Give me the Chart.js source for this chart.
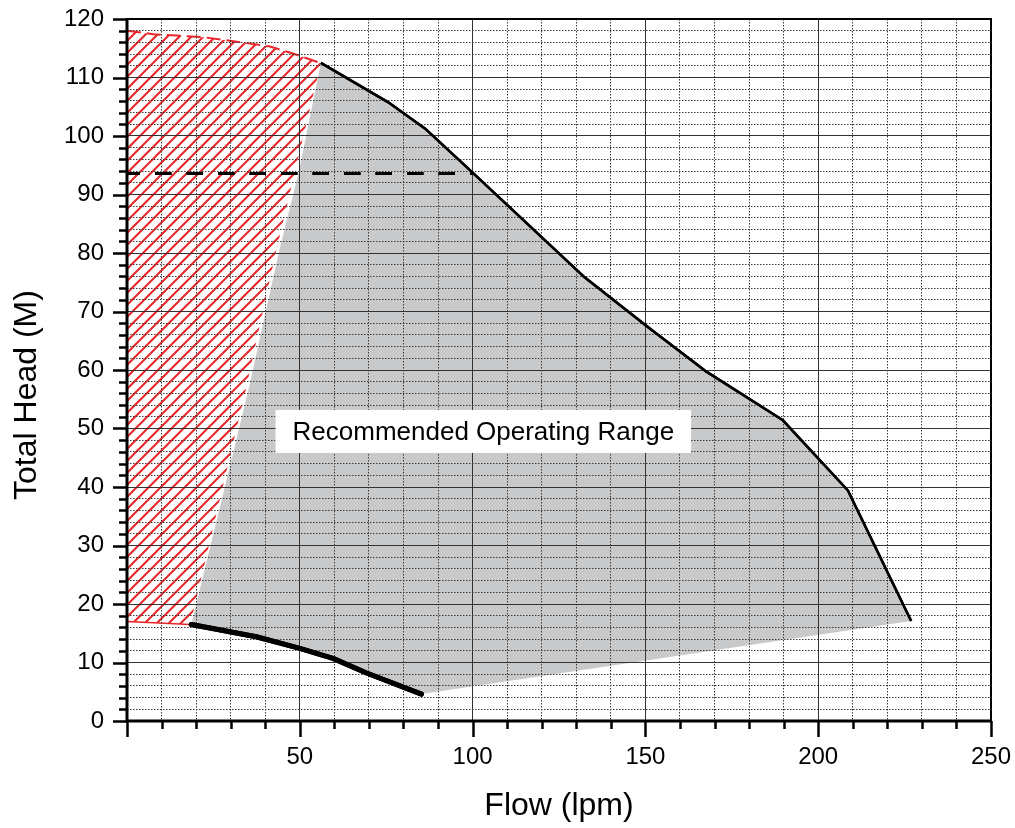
<!DOCTYPE html>
<html>
<head>
<meta charset="utf-8">
<script src="https://cdn.jsdelivr.net/npm/chart.js@4.4.1/dist/chart.umd.min.js"></script>
<style>
  html, body { margin: 0; padding: 0; background: #fff; }
  canvas { display: block; }
</style>
</head>
<body>
<canvas id="pumpChart" width="1015" height="828"></canvas>
<script>
// ── PUMP CURVE ──

const FONT       = "'Liberation Sans', Arial, Helvetica, sans-serif";
const RED        = '#e8262a';
const GRAY_FILL  = '#c8c9cb';
const MAJOR_GRID = '#333333';
const MINOR_GRID = '#3a3a3a';

// upper limit curve (black)
const curveFlow = [56.1, 75.5, 86.2, 99.7, 132.5, 150.8, 167.2, 189.8, 208.6, 226.9];
const curveHead = [112.5, 105.8, 101.3, 93.9, 75.8, 67.3, 59.9, 51.4, 39.4, 17.1];

// thick lower curve
const lowFlow = [18.6, 37.4, 50, 59.6, 69.3, 85.2];
const lowHead = [16.5, 14.4, 12.4, 10.7, 8.2, 4.6];

// left edge of the grey range, bottom to top
const edgeFlow = [18.6, 35.1, 44.1, 49.6, 56.1];
const edgeHead = [16.5, 56.5, 80.5, 93.6, 112.5];

// red hatched zone outline
const hatchFlow = [0, 7.6, 22, 34.6, 41.4, 48, 54.9, 56.1, 43.2, 34.3, 18.3, 0];
const hatchHead = [118, 117.4, 116.9, 115.9, 115.3, 114.1, 112.7, 112.5, 80.5, 56.5, 16.5, 17.0];

// dashed horizontal line
const dashFlow = [0, 100];
const dashHead = [93.6, 93.6];

const rangeLabel = 'Recommended Operating Range';
const labelAt    = { x: 103.1, y: 49.5 };

const xTitle = 'Flow (lpm)';
const yTitle = 'Total Head (M)';

const toPts = (xs, ys) => xs.map((x, i) => ({ x, y: ys[i] }));

const grayPts = [
  ...toPts(edgeFlow, edgeHead),
  ...toPts(curveFlow, curveHead).slice(1),
  ...toPts(lowFlow, lowHead).reverse()
];

const hatchPts = toPts(hatchFlow, hatchHead);

function makeHatch() {
  const s = 12;
  const c = document.createElement('canvas');
  c.width = s; c.height = s;
  const g = c.getContext('2d');
  g.strokeStyle = RED;
  g.lineWidth = 2;
  g.beginPath();
  g.moveTo(-2, s + 2); g.lineTo(s + 2, -2);
  g.moveTo(-2, 2);     g.lineTo(2, -2);
  g.moveTo(s - 2, s + 2); g.lineTo(s + 2, s - 2);
  g.stroke();
  return g.createPattern(c, 'repeat');
}

const isMajorX = v => v % 50 === 0;
const isMajorY = v => v % 10 === 0;

// no extra room for tick labels past the plot edges
const noPad = s => { s.paddingTop = 0; s.paddingBottom = 0; s.paddingLeft = 0; s.paddingRight = 0; };

const LINE_IDX = [0, 1, 2];

const overlayPlugin = {
  id: 'overlay',
  afterDraw(chart) {
    const { ctx, chartArea: a, scales: { x, y } } = chart;

    // lines above the grid
    ctx.save();
    ctx.beginPath();
    ctx.rect(a.left - 6, a.top - 6, a.width + 12, a.height + 12);
    ctx.clip();
    LINE_IDX.forEach(i => chart.getDatasetMeta(i).controller.draw());
    ctx.restore();

    // label box
    ctx.save();
    ctx.font = '26px ' + FONT;
    const tw = ctx.measureText(rangeLabel).width;
    const cx = x.getPixelForValue(labelAt.x);
    const cy = y.getPixelForValue(labelAt.y);
    const bw = tw + 34, bh = 43;
    ctx.fillStyle = '#fff';
    ctx.fillRect(cx - bw / 2, cy - bh / 2, bw, bh);
    ctx.fillStyle = '#000';
    ctx.textAlign = 'center';
    ctx.textBaseline = 'middle';
    ctx.fillText(rangeLabel, cx, cy + 1);
    ctx.restore();

    // ticks
    ctx.save();
    ctx.strokeStyle = '#000';
    ctx.lineWidth = 2.5;
    ctx.beginPath();
    x.ticks.forEach(t => {
      const px = Math.round(x.getPixelForValue(t.value)) + 0.5;
      ctx.moveTo(px, a.bottom);
      ctx.lineTo(px, a.bottom + (isMajorX(t.value) ? 16 : 8));
    });
    y.ticks.forEach(t => {
      const py = Math.round(y.getPixelForValue(t.value)) + 0.5;
      ctx.moveTo(a.left, py);
      ctx.lineTo(a.left - (isMajorY(t.value) ? 14 : 8), py);
    });
    ctx.stroke();

    // frame
    ctx.lineWidth = 2;
    ctx.strokeRect(a.left, a.top, a.width, a.height);
    ctx.lineWidth = 3;
    ctx.beginPath();
    ctx.moveTo(a.left, a.top - 1);
    ctx.lineTo(a.left, a.bottom);
    ctx.lineTo(a.right + 1, a.bottom);
    ctx.stroke();

    // y title
    ctx.translate(27.5, 395);
    ctx.rotate(-Math.PI / 2);
    ctx.font = '32px ' + FONT;
    ctx.fillStyle = '#000';
    ctx.textAlign = 'center';
    ctx.textBaseline = 'middle';
    ctx.fillText(yTitle, 0, 0);
    ctx.restore();
  }
};

function buildChart() {
  const ctx = document.getElementById('pumpChart');

  new Chart(ctx, {
    type: 'line',
    data: {
      datasets: [
        {
          label: 'upper',
          data: toPts(curveFlow, curveHead),
          borderColor: '#000',
          borderWidth: 2.5,
          borderJoinStyle: 'round',
          pointRadius: 0,
          fill: false,
          order: 1
        },
        {
          label: 'lower',
          data: toPts(lowFlow, lowHead),
          borderColor: '#000',
          borderWidth: 5,
          borderCapStyle: 'round',
          borderJoinStyle: 'round',
          pointRadius: 0,
          fill: false,
          order: 2
        },
        {
          label: 'dash',
          data: toPts(dashFlow, dashHead),
          borderColor: '#000',
          borderWidth: 3,
          borderDash: [16.5, 15],
          borderDashOffset: 3.5,
          pointRadius: 0,
          fill: false,
          order: 3
        },
        {
          label: 'range',
          data: grayPts,
          borderColor: 'transparent',
          borderWidth: 0,
          backgroundColor: GRAY_FILL,
          pointRadius: 0,
          fill: 'shape',
          order: 4
        },
        {
          label: 'hatch top',
          data: hatchPts.slice(0, 8),
          borderColor: RED,
          borderWidth: 2,
          borderDash: [14, 6],
          pointRadius: 0,
          fill: false,
          order: 5
        },
        {
          label: 'hatch bottom',
          data: hatchPts.slice(10),
          borderColor: RED,
          borderWidth: 1.5,
          pointRadius: 0,
          fill: false,
          order: 6
        },
        {
          label: 'hatch',
          data: hatchPts,
          backgroundColor: makeHatch(),
          borderColor: 'transparent',
          borderWidth: 0,
          pointRadius: 0,
          fill: 'shape',
          order: 7
        }
      ]
    },
    options: {
      responsive: false,
      maintainAspectRatio: false,
      devicePixelRatio: 1,
      animation: false,
      layout: { padding: { top: 19, right: 24, left: 0, bottom: 0 } },
      plugins: {
        legend: { display: false },
        tooltip: { enabled: false }
      },
      scales: {
        x: {
          type: 'linear',
          min: 0,
          max: 250,
          afterFit: s => { s.height = 107; noPad(s); },
          ticks: {
            stepSize: 10,
            autoSkip: false,
            maxRotation: 0,
            padding: 22,
            color: '#000',
            font: { family: FONT, size: 24 },
            callback: v => (isMajorX(v) && v !== 0) ? String(v) : ''
          },
          grid: {
            z: 1,
            drawTicks: false,
            lineWidth: 1,
            color: c => c.tick && isMajorX(c.tick.value) ? MAJOR_GRID : MINOR_GRID
          },
          border: {
            display: false,
            dash: c => (c.tick && !isMajorX(c.tick.value)) ? [1.5, 1.5] : []
          },
          title: {
            display: true,
            text: xTitle,
            color: '#000',
            font: { family: FONT, size: 32 },
            padding: { top: 0, bottom: 3 }
          }
        },
        y: {
          type: 'linear',
          min: 0,
          max: 120,
          afterFit: s => { s.width = 127; noPad(s); },
          ticks: {
            stepSize: 2,
            autoSkip: false,
            padding: 23,
            color: '#000',
            font: { family: FONT, size: 24 },
            callback: v => isMajorY(v) ? String(v) : ''
          },
          grid: {
            z: 1,
            drawTicks: false,
            lineWidth: 1,
            color: c => c.tick && isMajorY(c.tick.value) ? MAJOR_GRID : MINOR_GRID
          },
          border: {
            display: false,
            dash: c => (c.tick && !isMajorY(c.tick.value)) ? [1.5, 1.5] : []
          }
        }
      }
    },
    plugins: [overlayPlugin]
  });
}

buildChart();
</script>
</body>
</html>
